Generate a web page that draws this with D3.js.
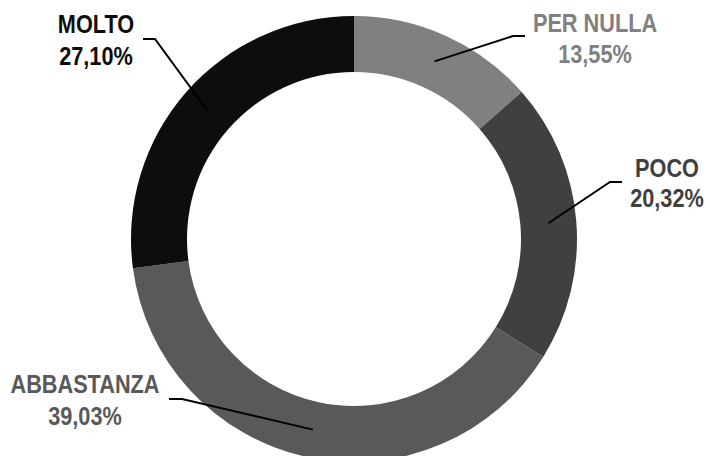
<!DOCTYPE html>
<html>
<head>
<meta charset="utf-8">
<script src="https://cdn.jsdelivr.net/npm/d3@7"></script>
<style>
  html, body { margin: 0; padding: 0; background: #fff; }
  svg { display: block; }
  .lbl { font-family: "Liberation Sans", Arial, sans-serif; font-weight: bold; font-size: 26px; }
</style>
</head>
<body>
<svg id="chart" width="710" height="456"></svg>
<script>
const categories = ["PER NULLA", "POCO", "ABBASTANZA", "MOLTO"];
const values = [13.55, 20.32, 39.03, 27.10];
const valueLabels = ["13,55%", "20,32%", "39,03%", "27,10%"];
const colors = ["#808080", "#404040", "#595959", "#0d0d0d"];

// layout (label placement, not data)
const cx = 354, cy = 239, outerR = 223, innerR = 167, lineR = 195;
const narrow = 0.835;
const labelLayout = [
  { x: 595, y: 32, elbow: [513, 36], end: [525, 36] },
  { x: 667, y: 177, elbow: [610, 182], end: [622, 182] },
  { x: 85, y: 393, elbow: [182, 399], end: [169, 399] },
  { x: 96, y: 33, elbow: [155, 39], end: [143, 39] }
];
const lineGap = [31, 30, 32, 32];

const svg = d3.select("#chart");
const g = svg.append("g").attr("transform", `translate(${cx},${cy})`);

const pie = d3.pie().sort(null).value(d => d);
const arcs = pie(values);
const arc = d3.arc().innerRadius(innerR).outerRadius(outerR);
const mid = d3.arc().innerRadius(lineR).outerRadius(lineR);

g.selectAll("path.slice").data(arcs).join("path")
  .attr("class", "slice")
  .attr("d", arc)
  .attr("fill", (d, i) => colors[i]);

// leader lines
svg.selectAll("polyline.leader").data(arcs).join("polyline")
  .attr("class", "leader")
  .attr("fill", "none")
  .attr("stroke", "#000")
  .attr("stroke-width", 2)
  .attr("points", (d, i) => {
    const c = mid.centroid(d);
    const L = labelLayout[i];
    return [[c[0] + cx, c[1] + cy], L.elbow, L.end].map(p => p.join(",")).join(" ");
  });

// labels
const lbl = svg.selectAll("text.lbl").data(arcs).join("text")
  .attr("class", "lbl")
  .attr("text-anchor", "middle")
  .attr("transform", (d, i) => `translate(${labelLayout[i].x},${labelLayout[i].y}) scale(${narrow},1)`)
  .attr("fill", (d, i) => colors[i]);
lbl.append("tspan").attr("x", 0).attr("y", 0)
  .text((d, i) => categories[i]);
lbl.append("tspan").attr("x", 0).attr("y", (d, i) => lineGap[i])
  .text((d, i) => valueLabels[i]);
</script>
</body>
</html>
